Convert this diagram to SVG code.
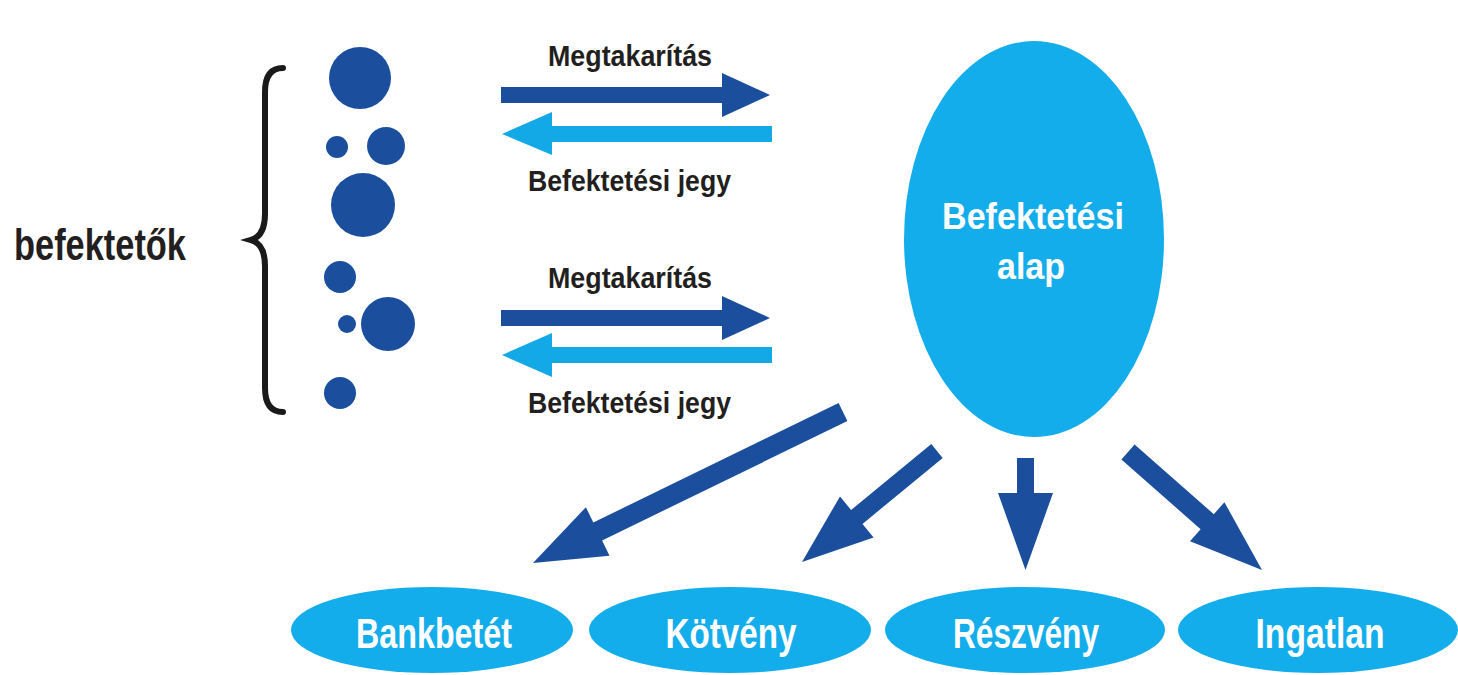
<svg xmlns="http://www.w3.org/2000/svg" width="1458" height="675" viewBox="0 0 1458 675">
<style>
.t{font-family:"Liberation Sans Narrow","Liberation Sans",Arial,sans-serif;font-weight:bold;}
.dk{fill:#231f20;}
.wh{fill:#ffffff;}
.db{fill:#1b4f9e;}
.lb{fill:#13a9e6;}
.cy{fill:#14adec;}
</style>
<rect width="1458" height="675" fill="#ffffff"/>
<g id="investors-label">
<text class="t dk" x="14" y="260" font-size="44" textLength="172" lengthAdjust="spacingAndGlyphs">befektetők</text>
<path d="M283 68 Q265 68 265 92 L265 214 Q265 236 251 240 Q265 244 265 266 L265 388 Q265 412 283 412" fill="none" stroke="#1a1a1a" stroke-width="6" stroke-linecap="round"/>
</g>
<g id="investors" class="db">
<circle cx="360" cy="78" r="31"/>
<circle cx="337" cy="147" r="11"/>
<circle cx="386" cy="146" r="19"/>
<circle cx="363" cy="205" r="32"/>
<circle cx="340" cy="277" r="16"/>
<circle cx="347" cy="324" r="9"/>
<circle cx="388" cy="324" r="27"/>
<circle cx="340" cy="393" r="16"/>
</g>
<g id="fund">
<ellipse class="cy" cx="1034" cy="239" rx="130" ry="198"/>
<text class="t wh" x="1033" y="229" font-size="36" text-anchor="middle" textLength="182" lengthAdjust="spacingAndGlyphs">Befektetési</text>
<text class="t wh" x="1031" y="279" font-size="36" text-anchor="middle" textLength="68" lengthAdjust="spacingAndGlyphs">alap</text>
</g>
<g id="bankbetet">
<ellipse class="cy" cx="432" cy="630" rx="141" ry="43"/>
<text class="t wh" x="434" y="648" font-size="43" text-anchor="middle" textLength="156" lengthAdjust="spacingAndGlyphs">Bankbetét</text>
</g>
<g id="kotveny">
<ellipse class="cy" cx="730" cy="630" rx="141" ry="43"/>
<text class="t wh" x="731" y="648" font-size="43" text-anchor="middle" textLength="131" lengthAdjust="spacingAndGlyphs">Kötvény</text>
</g>
<g id="reszveny">
<ellipse class="cy" cx="1025" cy="630" rx="140" ry="43"/>
<text class="t wh" x="1026" y="648" font-size="43" text-anchor="middle" textLength="146" lengthAdjust="spacingAndGlyphs">Részvény</text>
</g>
<g id="ingatlan">
<ellipse class="cy" cx="1318" cy="630" rx="140" ry="43"/>
<text class="t wh" x="1320" y="648" font-size="43" text-anchor="middle" textLength="129" lengthAdjust="spacingAndGlyphs">Ingatlan</text>
</g>
<g id="connectors">
<g id="flow-1">
<text class="t dk" x="548" y="66" font-size="29" textLength="164" lengthAdjust="spacingAndGlyphs">Megtakarítás</text>
<polygon class="db" points="501,87 722,87 722,73 770,95 722,117 722,103 501,103"/>
<polygon class="lb" points="772,126 552,126 552,112 502,134 552,155 552,142 772,142"/>
<text class="t dk" x="528" y="191" font-size="29" textLength="203" lengthAdjust="spacingAndGlyphs">Befektetési jegy</text>
</g>
<g id="flow-2">
<text class="t dk" x="548" y="288" font-size="29" textLength="164" lengthAdjust="spacingAndGlyphs">Megtakarítás</text>
<polygon class="db" points="501,310 722,310 722,296 770,318 722,340 722,326 501,326"/>
<polygon class="lb" points="772,347 552,347 552,333 502,355 552,377 552,363 772,363"/>
<text class="t dk" x="528" y="413" font-size="29" textLength="203" lengthAdjust="spacingAndGlyphs">Befektetési jegy</text>
</g>
<g id="out-arrows" class="db">
<polygon points="838.6,403 847.4,421 602.1,540.5 609.5,555.8 533,563 585.9,507.2 593.3,522.5"/>
<polygon points="931.3,444.1 942.7,457.9 862.5,523.9 873.6,537.4 802,562 840,496.4 851.1,509.9"/>
<polygon points="1017,458 1034,458 1034,493 1053,493 1025.5,570 998,493 1017,493"/>
<polygon points="1134.6,444.5 1121.4,459.5 1200.6,529.2 1190,541.2 1262,570 1224.4,502.2 1213.8,514.2"/>
</g>
</g>
</svg>
